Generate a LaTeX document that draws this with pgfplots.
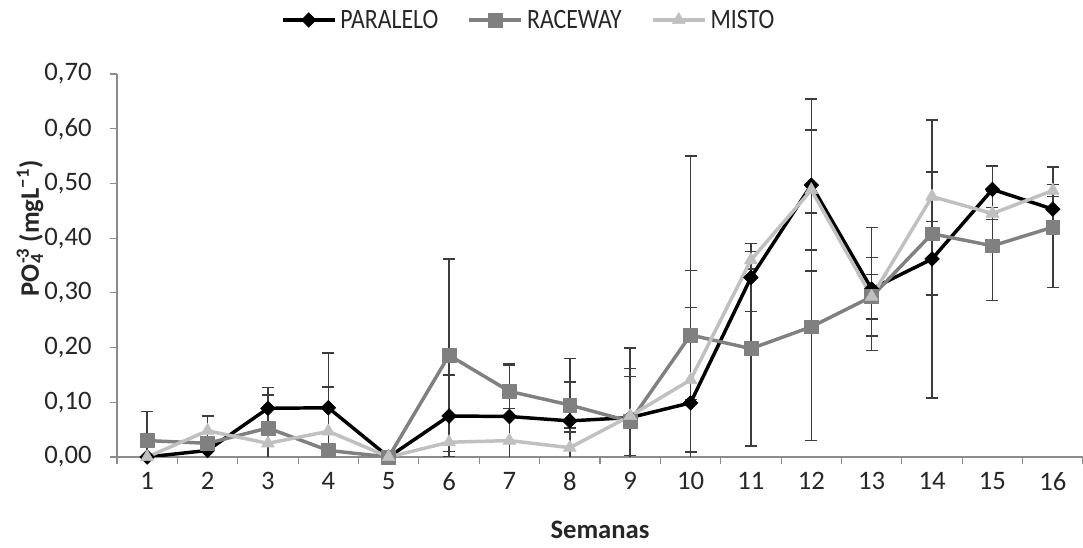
\documentclass[border=0pt]{standalone}
\usepackage{fontspec}
\setmainfont{Carlito}
\newfontfamily\legfont{Carlito}[FakeStretch=0.85]
\usepackage{pgfplots}
\usepackage{pgfplotstable}
\pgfplotsset{compat=1.18}

\definecolor{cpar}{HTML}{000000}
\definecolor{crac}{HTML}{808080}
\definecolor{cmis}{HTML}{C0C0C0}
\definecolor{cerr}{HTML}{3C3C3C}
\definecolor{caxis}{HTML}{8C8C8C}
\definecolor{ctext}{HTML}{262626}

% semana, media, desvio
\pgfplotstableread{
x  y      e
1  0.000  0.000
2  0.012  0.000
3  0.089  0.038
4  0.090  0.100
5  0.000  0.000
6  0.075  0.075
7  0.074  0.097
8  0.066  0.114
9  0.072  0.127
10 0.099  0.451
11 0.328  0.062
12 0.497  0.157
13 0.307  0.112
14 0.362  0.254
15 0.489  0.043
16 0.453  0.045
}\paralelo

\pgfplotstableread{
x  y      e
1  0.030  0.053
2  0.025  0.000
3  0.053  0.060
4  0.012  0.000
5  0.000  0.000
6  0.186  0.176
7  0.120  0.048
8  0.095  0.042
9  0.065  0.097
10 0.223  0.118
11 0.198  0.178
12 0.238  0.208
13 0.293  0.072
14 0.408  0.112
15 0.386  0.100
16 0.420  0.110
}\raceway

\pgfplotstableread{
x  y      e
1  0.000  0.000
2  0.048  0.027
3  0.025  0.000
4  0.047  0.081
5  0.000  0.000
6  0.027  0.000
7  0.030  0.059
8  0.017  0.029
9  0.075  0.072
10 0.141  0.132
11 0.360  0.016
12 0.488  0.110
13 0.293  0.041
14 0.476  0.046
15 0.445  0.011
16 0.487  0.011
}\misto

\begin{document}
\begin{tikzpicture}
\useasboundingbox (-87.75pt,-67.5pt) rectangle (724.5pt,342.75pt);
\begin{axis}[
  at={(0,0)}, anchor=south west,
  scale only axis, width=724.5pt, height=287.25pt,
  xmin=0.5, xmax=16.5, ymin=0, ymax=0.7,
  axis x line*=bottom, axis y line*=left,
  axis line style={caxis, line width=0.9pt, -},
  xtick={1,...,16},
  minor xtick={0.5,1.5,...,16.5},
  major x tick style={draw=none},
  minor x tick style={caxis, line width=0.9pt},
  ytick={0,0.1,0.2,0.3,0.4,0.5,0.6,0.7},
  y tick style={caxis, line width=0.9pt},
  tick align=outside,
  major tick length=5.5pt, minor tick length=5.5pt,
  /pgf/number format/assume math mode=true,
  yticklabel style={xshift=-10pt, /pgf/number format/.cd, fixed, fixed zerofill, precision=2, use comma},
  xticklabel style={yshift=-2.5pt},
  ticklabel style={font=\fontsize{20}{24}\selectfont, text=ctext},
  ylabel={\bfseries PO\rlap{\textsubscript{4}}\textsuperscript{-3} (mgL\textsuperscript{−1})},
  ylabel style={at={(axis description cs:-0.09,0.597)}, anchor=center, font=\fontsize{20}{24}\selectfont, text=ctext},
  xlabel={\bfseries Semanas},
  xlabel style={at={(axis description cs:0.5,-0.19)}, anchor=center, font=\fontsize{20}{24}\selectfont, text=ctext},
  legend columns=3,
  legend style={at={(0.4265,1.141)}, anchor=center, draw=none, fill=none,
    font=\legfont\fontsize{21}{25}\selectfont, text=ctext,
    /tikz/every odd column/.append style={column sep=1pt},
    /tikz/every even column/.append style={column sep=20pt}},
  legend image code/.code={\draw[mark repeat=2, mark phase=2, #1] plot coordinates {(0pt,0pt) (19.5pt,0pt) (39pt,0pt)};},
  error bars/error bar style={cerr, line width=1.1pt},
  error bars/error mark options={rotate=90, cerr, mark size=4.5pt, line width=1.1pt},
]
% barras de desvio, desenhadas sob as linhas
\addplot[forget plot, draw=none, mark=none,
  restrict expr to domain={\thisrow{e}}{0.0005:1},
  error bars/.cd, y dir=both, y explicit]
  table[x=x, y=y, y error=e]{\paralelo};
\addplot[forget plot, draw=none, mark=none,
  restrict expr to domain={\thisrow{e}}{0.0005:1},
  error bars/.cd, y dir=both, y explicit]
  table[x=x, y=y, y error=e]{\raceway};
\addplot[forget plot, draw=none, mark=none,
  restrict expr to domain={\thisrow{e}}{0.0005:1},
  error bars/.cd, y dir=both, y explicit]
  table[x=x, y=y, y error=e]{\misto};

\addplot[cpar, line width=2.6pt, line join=round, mark=square*, mark size=3.9pt,
  mark options={rotate=45, solid, fill=cpar, line width=0.4pt}]
  table[x=x, y=y]{\paralelo};
\addlegendentry{PARALELO}
\addplot[crac, line width=2.6pt, line join=round, mark=square*, mark size=5.2pt,
  mark options={solid, fill=crac, line width=0.4pt}]
  table[x=x, y=y]{\raceway};
\addlegendentry{RACEWAY}
\addplot[cmis, line width=2.6pt, line join=round, mark=triangle*, mark size=5.6pt,
  mark options={solid, fill=cmis, line width=0.4pt}]
  table[x=x, y=y]{\misto};
\addlegendentry{MISTO}
\end{axis}
\end{tikzpicture}
\end{document}
